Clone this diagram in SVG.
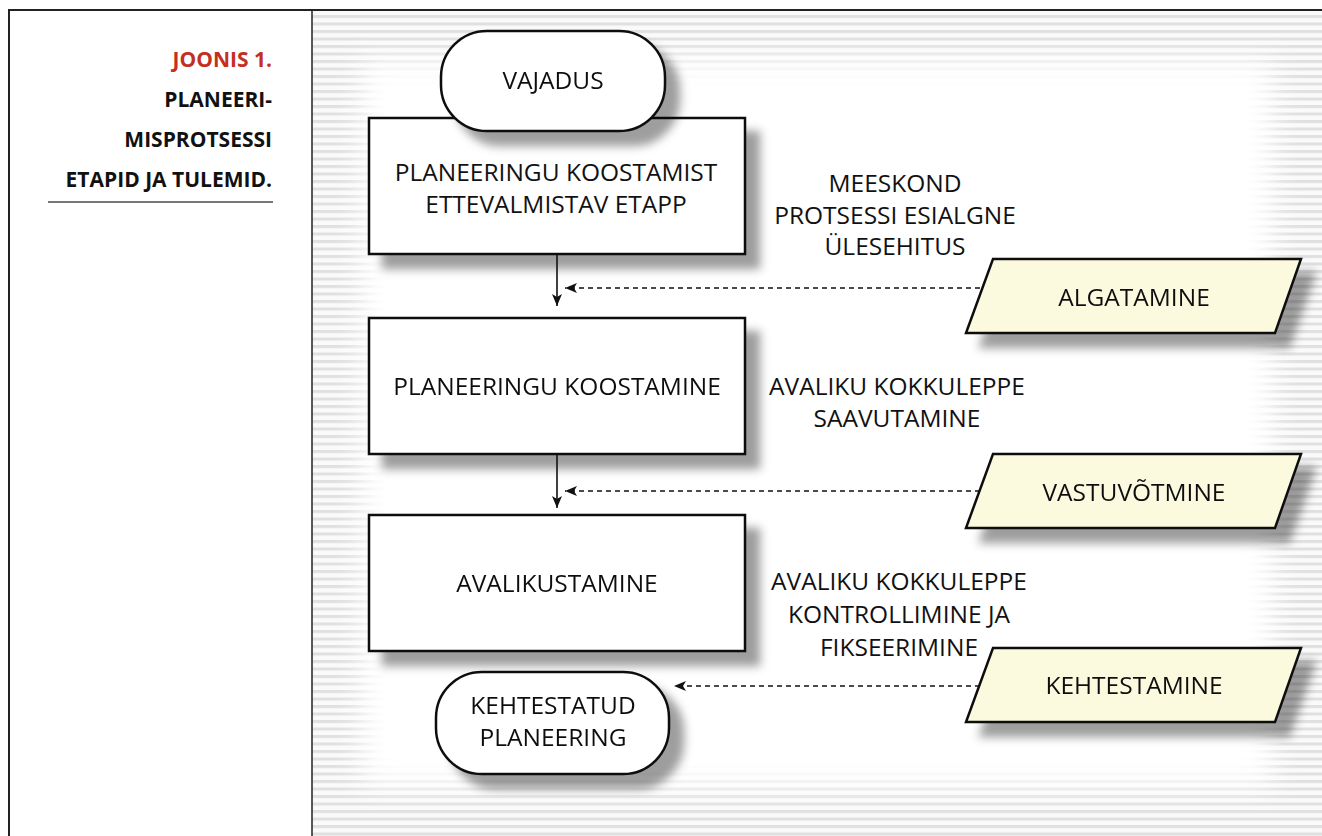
<svg xmlns="http://www.w3.org/2000/svg" width="1322" height="836" viewBox="0 0 1322 836">
<style>
.t{font-family:"Open Sans","Liberation Sans",sans-serif;font-size:24.5px;fill:#111;text-anchor:middle}
.cap{font-family:"Open Sans","Liberation Sans",sans-serif;font-size:21px;font-weight:bold;fill:#111;text-anchor:end}
.box{fill:#fff;stroke:#111;stroke-width:2.5}
.io{fill:#fcfade;stroke:#111;stroke-width:2.5}
.solid{stroke:#111;stroke-width:1.6;fill:none}
.dash{stroke:#111;stroke-width:1.6;fill:none;stroke-dasharray:5 4}
</style>
<defs>
<pattern id="stripes" patternUnits="userSpaceOnUse" width="20" height="7.5">
<rect width="20" height="7.5" fill="#fafafa"/>
<rect width="20" height="3" fill="#e0e0e0"/>
</pattern>
<filter id="fade" x="-10%" y="-10%" width="120%" height="120%">
<feGaussianBlur stdDeviation="14"/>
</filter>
<filter id="sh" x="-20%" y="-20%" width="150%" height="160%">
<feGaussianBlur in="SourceAlpha" stdDeviation="5" result="b"/>
<feOffset dx="14" dy="14" result="o"/>
<feFlood flood-color="#000" flood-opacity="0.38"/>
<feComposite in2="o" operator="in" result="s"/>
<feMerge><feMergeNode in="s"/><feMergeNode in="SourceGraphic"/></feMerge>
</filter>
<marker id="ah" viewBox="0 0 12 10" refX="12" refY="5" markerWidth="12" markerHeight="10" markerUnits="userSpaceOnUse" orient="auto">
<path d="M0,0 L12,5 L0,10 L3,5 Z" fill="#111"/>
</marker>
</defs>

<!-- background panel -->
<rect x="0" y="0" width="1322" height="836" fill="#fff"/>
<rect x="312" y="10" width="1010" height="826" fill="url(#stripes)"/>
<rect x="362" y="60" width="910" height="726" fill="#fff" filter="url(#fade)"/>

<!-- frame -->
<g id="frame" fill="none" stroke="#222">
<path d="M9,836 V10 H1322" stroke-width="2"/>
<line x1="312" y1="10" x2="312" y2="836" stroke-width="1.5"/>
</g>

<!-- caption -->
<g id="caption">
<text class="cap" x="272" y="67" style="fill:#c4301f">JOONIS 1.</text>
<text class="cap" x="272" y="107">PLANEERI-</text>
<text class="cap" x="272" y="147">MISPROTSESSI</text>
<text class="cap" x="272" y="187">ETAPID JA TULEMID.</text>
<line x1="48" y1="202" x2="273" y2="202" stroke="#777" stroke-width="2"/>
</g>

<!-- nodes -->
<g id="n-box1" filter="url(#sh)">
<rect class="box" x="369" y="118" width="376" height="136"/>
</g>
<g id="n-vajadus" filter="url(#sh)">
<rect class="box" x="441" y="31" width="224" height="100" rx="46" ry="46"/>
<text class="t" x="553" y="89">VAJADUS</text>
</g>
<g id="n-box1-text">
<text class="t" x="556" y="181">PLANEERINGU KOOSTAMIST</text>
<text class="t" x="556" y="213">ETTEVALMISTAV ETAPP</text>
</g>
<g id="n-box2" filter="url(#sh)">
<rect class="box" x="369" y="318" width="376" height="136"/>
<text class="t" x="557" y="395">PLANEERINGU KOOSTAMINE</text>
</g>
<g id="n-box3" filter="url(#sh)">
<rect class="box" x="369" y="515" width="376" height="136"/>
<text class="t" x="557" y="592">AVALIKUSTAMINE</text>
</g>
<g id="n-kehtestatud" filter="url(#sh)">
<rect class="box" x="436" y="672" width="233" height="102" rx="46" ry="46"/>
<text class="t" x="553" y="714">KEHTESTATUD</text>
<text class="t" x="553" y="746">PLANEERING</text>
</g>
<g id="n-algatamine" filter="url(#sh)">
<polygon class="io" points="993,259 1301,259 1275,333 966,333"/>
<text class="t" x="1134" y="306">ALGATAMINE</text>
</g>
<g id="n-vastuvotmine" filter="url(#sh)">
<polygon class="io" points="993,454 1301,454 1275,528 966,528"/>
<text class="t" x="1134" y="501">VASTUVÕTMINE</text>
</g>
<g id="n-kehtestamine" filter="url(#sh)">
<polygon class="io" points="993,648 1301,648 1275,722 966,722"/>
<text class="t" x="1134" y="694">KEHTESTAMINE</text>
</g>

<!-- side labels -->
<g id="labels">
<text class="t" x="895" y="192">MEESKOND</text>
<text class="t" x="895" y="224">PROTSESSI ESIALGNE</text>
<text class="t" x="895" y="255">ÜLESEHITUS</text>
<text class="t" x="897" y="395">AVALIKU KOKKULEPPE</text>
<text class="t" x="897" y="427">SAAVUTAMINE</text>
<text class="t" x="899" y="590">AVALIKU KOKKULEPPE</text>
<text class="t" x="899" y="623">KONTROLLIMINE JA</text>
<text class="t" x="899" y="656">FIKSEERIMINE</text>
</g>

<!-- connectors -->
<g id="connectors">
<line class="solid" x1="557" y1="254" x2="557" y2="306" marker-end="url(#ah)"/>
<line class="solid" x1="557" y1="454" x2="557" y2="508" marker-end="url(#ah)"/>
<line class="dash" x1="980" y1="288" x2="565" y2="288" marker-end="url(#ah)"/>
<line class="dash" x1="980" y1="491" x2="565" y2="491" marker-end="url(#ah)"/>
<line class="dash" x1="980" y1="686" x2="674" y2="686" marker-end="url(#ah)"/>
</g>
</svg>
